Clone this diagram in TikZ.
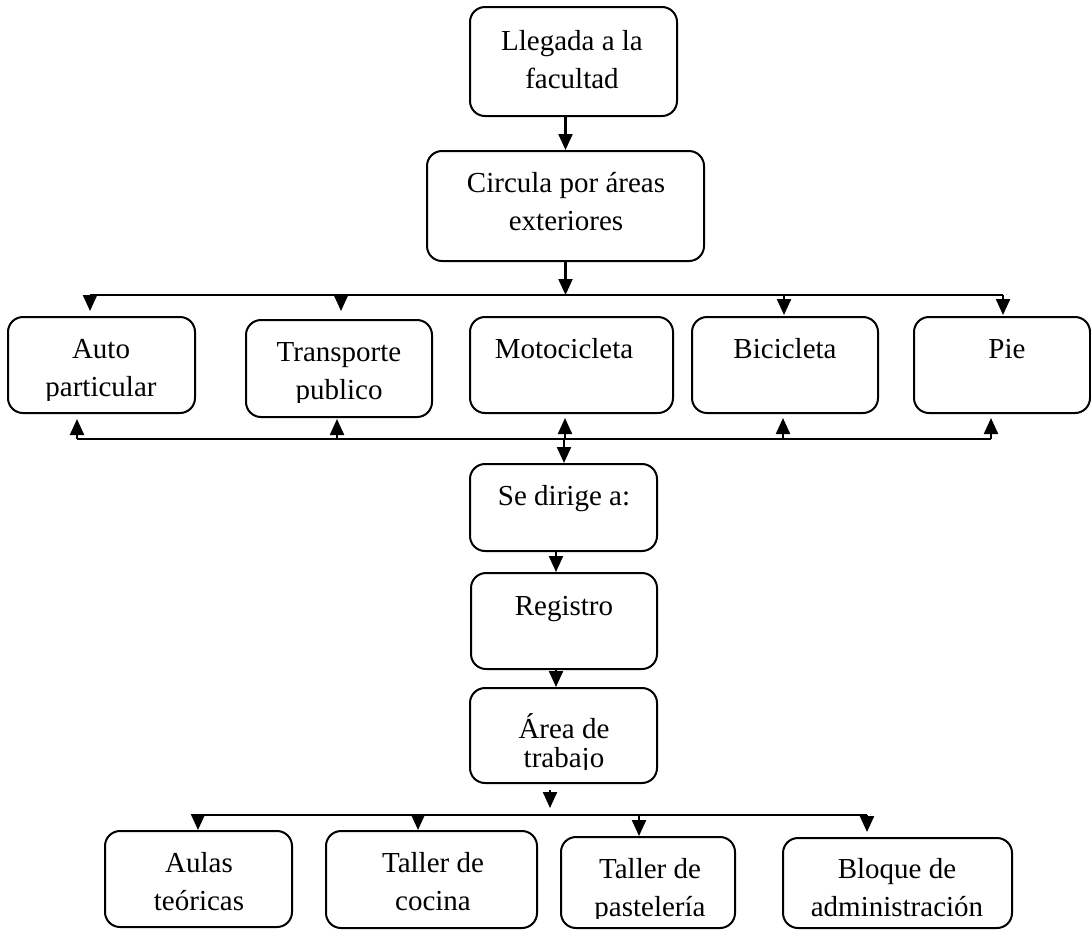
\documentclass[tikz,border=0pt]{standalone}
\usepackage{fontspec}
\setmainfont{Liberation Serif}
\usetikzlibrary{arrows.meta}
% top-aligned, centred block of lines; optional argument = line distance
\newcommand\boxlines[2][38.5]{\parbox[t]{320pt}{\centering\fontsize{29}{#1}\selectfont #2\par}}
\begin{document}
\begin{tikzpicture}[x=1pt,y=-1pt,
  box/.style={draw, line width=2pt, rounded corners=15pt, inner sep=0pt},
  txt/.style={anchor=base, inner sep=0pt},
  arr/.style={line width=2.2pt, -{Triangle[width=14pt,length=16pt]}},
  bus/.style={line width=2.2pt}]
\fill[white] (0,0) rectangle (1091,930);
\useasboundingbox (0,0) rectangle (1091,930);

% ---- boxes ----
\node[box, minimum width=207pt, minimum height=109pt] (lleg)   at (573.5,61.5) {};
\node[box, minimum width=277pt, minimum height=110pt] (circ)   at (565.5,206)  {};
\node[box, minimum width=187pt, minimum height=96pt]  (auto)   at (101.5,365)  {};
\node[box, minimum width=186pt, minimum height=97pt]  (trans)  at (339,368.5)  {};
\node[box, minimum width=203pt, minimum height=96pt]  (moto)   at (571.5,365)  {};
\node[box, minimum width=186pt, minimum height=96pt]  (bici)   at (785,365)    {};
\node[box, minimum width=176pt, minimum height=96pt]  (pie)    at (1002,365)   {};
\node[box, minimum width=187pt, minimum height=87pt]  (sedir)  at (563.5,507.5){};
\node[box, minimum width=186pt, minimum height=96pt]  (reg)    at (564,621)    {};
\node[box, minimum width=187pt, minimum height=95pt]  (area)   at (563.5,735.5){};
\node[box, minimum width=187pt, minimum height=96pt]  (aulas)  at (198.5,879)  {};
\node[box, minimum width=211pt, minimum height=97pt]  (cocina) at (431.5,879.5){};
\node[box, minimum width=174pt, minimum height=91pt]  (paste)  at (648,882.5)  {};
\node[box, minimum width=229pt, minimum height=90pt]  (bloque) at (897.5,883)  {};

% ---- texts (first baseline); some text frames cut their last line ----
\node[txt] (lleg-t)   at (572,50)  {\boxlines{Llegada a la\\facultad}};
\node[txt] (circ-t)   at (566,192) {\boxlines{Circula por áreas\\exteriores}};
\begin{scope}
  \clip (0,0) rectangle (1091,400);
  \node[txt] (auto-t)   at (101,358) {\boxlines{Auto\\particular}};
\end{scope}
\begin{scope}
  \clip (0,0) rectangle (1091,402);
  \node[txt] (trans-t)  at (339,361) {\boxlines{Transporte\\publico}};
\end{scope}
\node[txt] (moto-t)   at (564,358) {\boxlines{Motocicleta}};
\node[txt] (bici-t)   at (785,358) {\boxlines{Bicicleta}};
\node[txt] (pie-t)    at (1007,358){\boxlines{Pie}};
\node[txt] (sedir-t)  at (564,505) {\boxlines{Se dirige a:}};
\node[txt] (reg-t)    at (564,615) {\boxlines{Registro}};
\begin{scope}
  \clip (0,0) rectangle (1091,769);
  \node[txt] (area-t)   at (564,738) {\boxlines[29.5]{Área de\\trabajo}};
\end{scope}
\node[txt] (aulas-t)  at (199,872) {\boxlines{Aulas\\teóricas}};
\node[txt] (cocina-t) at (433,872) {\boxlines{Taller de\\cocina}};
\begin{scope}
  \clip (0,0) rectangle (1091,918);
  \node[txt] (paste-t)  at (650,878) {\boxlines{Taller de\\pastelería}};
\end{scope}
\node[txt] (bloque-t) at (897,878) {\boxlines{Bloque de\\administración}};

% ---- bus coordinates ----
\coordinate (t1) at (90,295);   \coordinate (t2) at (341,295);
\coordinate (t3) at (565.5,295);\coordinate (t4) at (784,295);
\coordinate (t5) at (1003,295);
\coordinate (b1) at (77,439);   \coordinate (b2) at (337,439);
\coordinate (b3) at (565,439);  \coordinate (b4) at (783,439);
\coordinate (b5) at (991,439);
\coordinate (s0) at (550,790);
\coordinate (d1) at (198,815);  \coordinate (d2) at (418,815);
\coordinate (d3) at (639,815);  \coordinate (d4) at (867,815);

% ---- top part ----
\draw[arr] (circ.north |- lleg.south) -- (circ.north);
\draw[arr] (circ.south) -- (t3);
\draw[bus] (t1) -- (t5);
\draw[arr] (t1) -- (t1 |- 0,311);
\draw[arr] (t2) -- (t2 |- 0,311);
\draw[arr] (t4) -- (t4 |- 0,315);
\draw[arr] (t5) -- (t5 |- 0,315);

% ---- return bus ----
\draw[bus] (b1) -- (b5);
\draw[arr] (b1) -- (b1 |- 0,419);
\draw[arr] (b2) -- (b2 |- 0,419);
\draw[arr] (b3) -- (b3 |- 0,418);
\draw[arr] (b4) -- (b4 |- 0,418);
\draw[arr] (b5) -- (b5 |- 0,418);
\draw[arr] (b3 -| 564,0) -- (sedir.north -| 564,0);

% ---- central column ----
\draw[arr] ([xshift=-7.5pt]sedir.south) -- ([xshift=-8pt]reg.north);
\draw[arr] ([xshift=-8pt]reg.south) -- ([xshift=-7.5pt]area.north);
\draw[arr] (s0) -- (s0 |- 0,808);

% ---- bottom bus ----
\draw[bus] (d1) -- (d4);
\draw[arr] (d1) -- (d1 |- aulas.north);
\draw[arr] (d2) -- (d2 |- cocina.north);
\draw[arr] (d3) -- (d3 |- paste.north);
\draw[arr] (d4) -- ([yshift=5pt]d4 |- bloque.north);
\end{tikzpicture}
\end{document}
